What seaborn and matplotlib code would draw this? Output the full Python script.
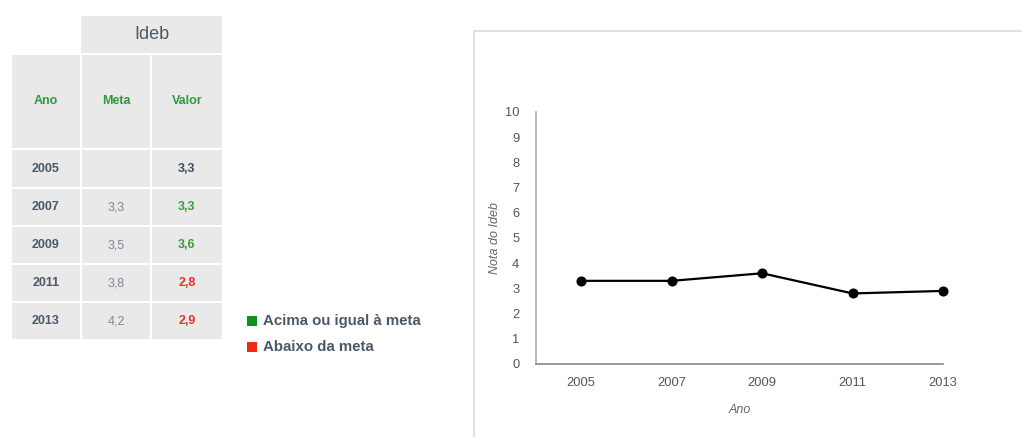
import matplotlib
matplotlib.use("Agg")
import matplotlib.pyplot as plt
import seaborn as sns
import pandas as pd
from matplotlib.patches import Rectangle

# ---- data ----
anos = [2005, 2007, 2009, 2011, 2013]
metas = [None, 3.3, 3.5, 3.8, 4.2]
valores = [3.3, 3.3, 3.6, 2.8, 2.9]
col_headers = ["Ano", "Meta", "Valor"]
legend_labels = ["Acima ou igual à meta", "Abaixo da meta"]
y_ticks = list(range(0, 11))

sns.set_theme(style="white")
plt.rcParams["font.family"] = ["Liberation Sans", "DejaVu Sans"]

W, H = 1022, 437
fig = plt.figure(figsize=(W / 100, H / 100), dpi=100)
fig.patch.set_facecolor("white")

# overlay axes in pixel coordinates for table / legend / panel
ov = fig.add_axes([0, 0, 1, 1])
ov.set_xlim(0, W)
ov.set_ylim(H, 0)
ov.axis("off")

cell_c = "#e9e9ea"
txt_dark = "#4a5868"
green_h = "#2f9a3c"

# panel border
ov.add_patch(Rectangle((474, 31), 560, 420, facecolor="white", edgecolor="#dcdcdc", lw=1.2))

# header "Ideb"
ov.add_patch(Rectangle((81, 16), 141, 37, facecolor=cell_c, edgecolor="none"))
ov.text(151.5, 34.5, "Ideb", ha="center", va="center", fontsize=13, color=txt_dark)

cols_x = [(12, 80), (82, 150), (152, 222)]
ov_rows = [(150, 187), (189, 225), (227, 263), (265, 301), (303, 339)]
# column header row
for (x0, x1), lab in zip(cols_x, col_headers):
    ov.add_patch(Rectangle((x0, 55), x1 - x0, 93, facecolor=cell_c, edgecolor="none"))
    ov.text((x0 + x1) / 2, 101, lab, ha="center", va="center", fontsize=9,
            fontweight="bold", color=green_h)

for i, (y0, y1) in enumerate(ov_rows):
    for (x0, x1) in cols_x:
        ov.add_patch(Rectangle((x0, y0), x1 - x0, y1 - y0, facecolor=cell_c, edgecolor="none"))
    yc = (y0 + y1) / 2
    ov.text(46, yc, str(anos[i]), ha="center", va="center", fontsize=9,
            fontweight="bold", color=txt_dark)
    if metas[i] is not None:
        ov.text(116, yc, f"{metas[i]:.1f}".replace(".", ","), ha="center", va="center",
                fontsize=9, color="#7d8894")
    v = valores[i]
    if metas[i] is None:
        vc = "#3d4f66"
    elif v >= metas[i]:
        vc = "#3a9a3a"
    else:
        vc = "#e3342a"
    ov.text(187, yc, f"{v:.1f}".replace(".", ","), ha="center", va="center",
            fontsize=9, fontweight="bold", color=vc)

# legend
for (yc, col), lab in zip([(321, "#14901e"), (347, "#f02a14")], legend_labels):
    ov.add_patch(Rectangle((247, yc - 5), 10, 10, facecolor=col, edgecolor="none"))
    ov.text(263, yc, lab, ha="left", va="center", fontsize=10.8, fontweight="bold", color=txt_dark)

# ---- line chart ----
x_left, x_right, y_top, y_bot = 536, 943, 112, 364
ax = fig.add_axes([x_left / W, 1 - y_bot / H, (x_right - x_left) / W, (y_bot - y_top) / H])
ax.patch.set_alpha(0)
df = pd.DataFrame({"Ano": anos, "Nota": valores})
sns.lineplot(data=df, x="Ano", y="Nota", ax=ax, color="black", linewidth=1.6,
             marker="o", markersize=6.5, markeredgecolor="black", clip_on=False)
ax.set_xlim(2004, 2013)
ax.set_ylim(0, 10)
ax.set_xticks(anos)
ax.set_yticks(y_ticks)
ax.tick_params(axis="both", length=0, labelsize=9.3, labelcolor="#555555")
ax.tick_params(axis="y", pad=12)
ax.tick_params(axis="x", pad=9)
for s in ["top", "right"]:
    ax.spines[s].set_visible(False)
ax.spines["left"].set_color("#aaaaaa")
ax.spines["bottom"].set_color("#888888")
ax.spines["left"].set_linewidth(1.2)
ax.spines["bottom"].set_linewidth(1.2)
ax.set_xlabel("Ano", fontsize=9, fontstyle="italic", color="#666666", labelpad=11)
ax.set_ylabel("Nota do Ideb", fontsize=9, fontstyle="italic", color="#666666", labelpad=3)

fig.savefig("out.png", dpi=100)
